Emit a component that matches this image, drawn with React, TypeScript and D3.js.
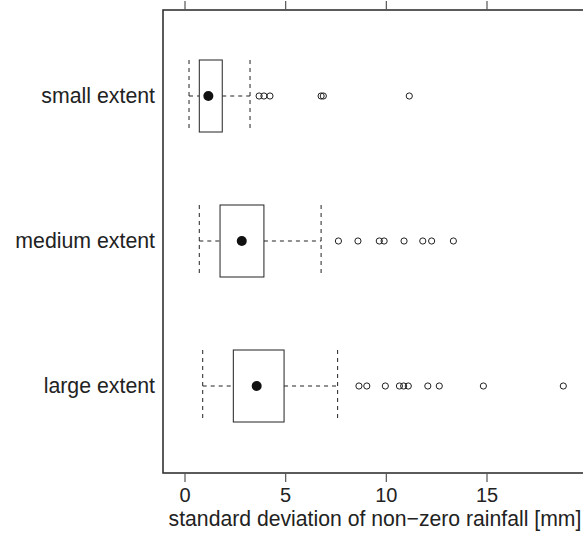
import React from "react";
import * as d3 from "d3";

// Categories, top to bottom
const categories = ["small extent", "medium extent", "large extent"];

// Five-number summaries per category: lower whisker, Q1, median, Q3, upper whisker
const lowerWhisker = [0.2, 0.71, 0.88];
const q1 = [0.71, 1.74, 2.4];
const median = [1.16, 2.82, 3.56];
const q3 = [1.85, 3.92, 4.92];
const upperWhisker = [3.23, 6.76, 7.58];

// Outliers per category
const outliersSmall = [3.68, 3.92, 4.22, 6.76, 6.87, 11.14];
const outliersMedium = [7.62, 8.59, 9.65, 9.89, 10.88, 11.81, 12.25, 13.33];
const outliersLarge = [8.64, 9.03, 9.95, 10.65, 10.86, 11.09, 12.06, 12.63, 14.82, 18.79];
const outliers = [outliersSmall, outliersMedium, outliersLarge];

const xTicks = [0, 5, 10, 15];
const xTitle = "standard deviation of non\u2212zero rainfall [mm]";

const W = 583;
const H = 537;
const frameLeft = 163;
const frameTop = 10;
const frameBottom = 473;
const boxH = 72;
const font = "'Liberation Sans', Arial, sans-serif";
const ink = "#222";
const dash = "4,4";

export default function App() {
  const x = d3.scaleLinear().domain([0, 15]).range([185, 487]);
  const y = d3.scalePoint<string>().domain(categories).range([96, 386]);

  return (
    <svg
      width={W}
      height={H}
      style={{ position: "absolute", left: 0, top: 0, background: "#fff" }}
    >
      {/* plot frame */}
      <rect
        x={frameLeft}
        y={frameTop}
        width={W + 20 - frameLeft}
        height={frameBottom - frameTop}
        fill="none"
        stroke="#333"
        strokeWidth={1.6}
      />
      {/* ticks top and bottom */}
      {xTicks.map((t) => (
        <g key={t}>
          <line x1={x(t)} x2={x(t)} y1={1} y2={frameTop} stroke="#555" strokeWidth={1.2} />
          <line x1={x(t)} x2={x(t)} y1={frameBottom} y2={frameBottom + 9} stroke="#555" strokeWidth={1.2} />
          <text
            x={x(t)}
            y={501.5}
            textAnchor="middle"
            fontFamily={font}
            fontSize={20}
            fill={ink}
          >
            {t}
          </text>
        </g>
      ))}
      <text x={375} y={525.5} textAnchor="middle" fontFamily={font} fontSize={21.2} fill={ink}>
        {xTitle}
      </text>

      {categories.map((c, i) => {
        const cy = y(c) as number;
        const top = cy - boxH / 2;
        const bot = cy + boxH / 2;
        return (
          <g key={c}>
            <text
              x={155}
              y={cy + 7}
              textAnchor="end"
              fontFamily={font}
              fontSize={21.3}
              fill={ink}
            >
              {c}
            </text>
            {/* whiskers */}
            <line x1={x(lowerWhisker[i])} x2={x(q1[i])} y1={cy} y2={cy} stroke={ink} strokeDasharray={dash} strokeWidth={1} />
            <line x1={x(q3[i])} x2={x(upperWhisker[i])} y1={cy} y2={cy} stroke={ink} strokeDasharray={dash} strokeWidth={1} />
            {/* whisker caps */}
            <line x1={x(lowerWhisker[i])} x2={x(lowerWhisker[i])} y1={top} y2={bot} stroke={ink} strokeDasharray={dash} strokeWidth={1} />
            <line x1={x(upperWhisker[i])} x2={x(upperWhisker[i])} y1={top} y2={bot} stroke={ink} strokeDasharray={dash} strokeWidth={1} />
            {/* box */}
            <rect
              x={x(q1[i])}
              y={top}
              width={x(q3[i]) - x(q1[i])}
              height={boxH}
              fill="#fff"
              stroke={ink}
              strokeWidth={1}
            />
            {/* median */}
            <circle cx={x(median[i])} cy={cy} r={5} fill="#111" />
            {/* outliers */}
            {outliers[i].map((v, j) => (
              <circle key={j} cx={x(v)} cy={cy} r={3.1} fill="none" stroke={ink} strokeWidth={1} />
            ))}
          </g>
        );
      })}
    </svg>
  );
}
